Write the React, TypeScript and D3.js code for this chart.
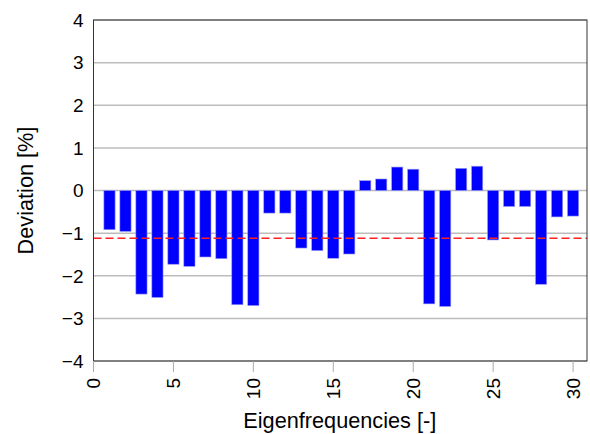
import React from "react";
import * as d3 from "d3";

const categories = d3.range(1, 31);
const deviations = [
  -0.92, -0.96, -2.43, -2.51, -1.73, -1.78, -1.56, -1.6, -2.68, -2.7,
  -0.53, -0.53, -1.35, -1.41, -1.59, -1.49, 0.23, 0.27, 0.55, 0.5,
  -2.66, -2.72, 0.52, 0.57, -1.16, -0.375, -0.375, -2.2, -0.62, -0.6,
];
const meanLine = -1.12;
const yTicks = [-4, -3, -2, -1, 0, 1, 2, 3, 4];
const xTicks = [0, 5, 10, 15, 20, 25, 30];

export default function App() {
  const W = 590, H = 434;
  const left = 93.5, right = 587, top = 20, bottom = 361;
  const x = d3.scaleLinear().domain([0, 30.87]).range([left, right]);
  const y = d3.scaleLinear().domain([-4, 4]).range([bottom, top]);
  const bw = (x(1) - x(0)) * 0.7;
  const font = "Liberation Sans, Arial, Helvetica, sans-serif";
  return (
    <svg width={W} height={H} style={{ position: "absolute", left: 0, top: 0 }}>
      <rect x={0} y={0} width={W} height={H} fill="white" />
      {yTicks.map((t) => (
        <line key={"g" + t} x1={left} x2={right} y1={y(t)} y2={y(t)} stroke="#bcbcbc" strokeWidth={1.5} />
      ))}
      {categories.map((c, i) => {
        const v = deviations[i];
        return (
          <rect
            key={c}
            x={x(c) - bw / 2}
            y={y(Math.max(0, v))}
            width={bw}
            height={Math.abs(y(v) - y(0))}
            fill="#0000ff"
            stroke="#9999ee"
            strokeWidth={0.6}
          />
        );
      })}
      <line x1={left} x2={right} y1={y(meanLine)} y2={y(meanLine)} stroke="#ff2020" strokeWidth={1.4} strokeDasharray="8 4" />
      <rect x={left} y={top} width={right - left} height={bottom - top} fill="none" stroke="#333" strokeWidth={1} />
      {yTicks.map((t) => (
        <text key={"yt" + t} x={left - 10} y={y(t)} dy="0.36em" textAnchor="end" fontFamily={font} fontSize={19} fill="#000">
          {t < 0 ? "\u2212" + Math.abs(t) : String(t)}
        </text>
      ))}
      {xTicks.map((t) => (
        <g key={"xt" + t}>
          <line x1={x(t)} x2={x(t)} y1={bottom} y2={bottom + 11} stroke="#aaa" strokeWidth={1} />
          <text
            transform={`translate(${x(t)},${bottom + 17}) rotate(-90)`}
            dy="0.36em"
            textAnchor="end"
            fontFamily={font}
            fontSize={19}
            fill="#000"
          >
            {t}
          </text>
        </g>
      ))}
      <text x={(left + right) / 2 - 0.5} y={428} textAnchor="middle" fontFamily={font} fontSize={21.7} fill="#000">
        Eigenfrequencies [-]
      </text>
      <text
        transform={`translate(33,${(top + bottom) / 2}) rotate(-90)`}
        textAnchor="middle"
        fontFamily={font}
        fontSize={21.7}
        fill="#000"
      >
        Deviation [%]
      </text>
    </svg>
  );
}
